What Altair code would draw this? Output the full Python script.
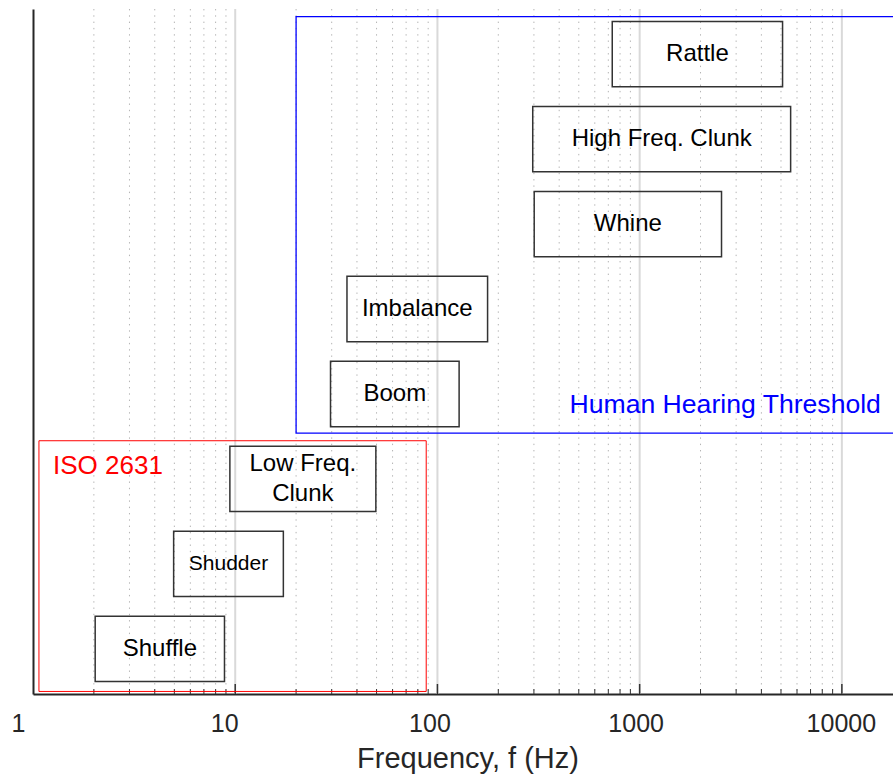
import altair as alt
import pandas as pd

# Driveline noise / vibration phenomena and their frequency ranges (Hz)
phenomena = ["Shuffle", "Shudder", "Low Freq.\nClunk", "Boom", "Imbalance",
             "Whine", "High Freq. Clunk", "Rattle"]
f_low = [2.03, 4.96, 9.41, 29.6, 35.7, 301, 296, 732]
f_high = [8.85, 17.3, 49.6, 128, 177, 2540, 5580, 5090]
row = [1, 2, 3, 4, 5, 6, 7, 8]

# Reference regions
region_names = ["ISO 2631", "Human Hearing Threshold"]
region_f_low = [1.07, 20]
region_f_high = [88, 20000]
region_row_low = [0.5, 3.54]
region_row_high = [3.45, 8.44]
region_label_f = [1.256, 15600]
region_label_row = [3.15, 3.875]

# Axis ticks
axis_labels = [1, 10, 100, 1000, 10000]
major_ticks = [10, 100, 1000, 10000]
minor_ticks = [2, 3, 4, 5, 6, 7, 8, 9,
               20, 30, 40, 50, 60, 70, 80, 90,
               200, 300, 400, 500, 600, 700, 800, 900,
               2000, 3000, 4000, 5000, 6000, 7000, 8000, 9000]

FONT = "Liberation Sans"
W, H = 860, 685
HALF = 0.384  # half box height in row units
LINE_H = 30.7  # line height of two-line labels

xs = alt.Scale(type="log", domain=[1, 17900], nice=False)
ys = alt.Scale(domain=[0.47, 8.53], nice=False, zero=False)

boxes = pd.DataFrame({"label": phenomena, "lo": f_low, "hi": f_high, "row": row})
regions = pd.DataFrame({
    "name": region_names, "lo": region_f_low, "hi": region_f_high,
    "r0": region_row_low, "r1": region_row_high,
    "lf": region_label_f, "lr": region_label_row,
})

label_offset = {
    "condition": [
        {"test": "datum.value == 1", "value": -15},
        {"test": "datum.value == 10", "value": -11},
        {"test": "datum.value == 100", "value": -8},
        {"test": "datum.value == 1000", "value": -4},
    ],
    "value": -1,
}

x_axis = alt.Axis(
    values=axis_labels, format="d", ticks=False, tickSize=0, grid=False,
    labelFont=FONT, labelFontSize=25, labelColor="#262626", labelPadding=17,
    labelOffset=label_offset, labelFlush=False, labelOverlap=False,
    domainColor="#262626", domainWidth=2,
    title="Frequency, f (Hz)", titleFont=FONT, titleFontSize=29,
    titleFontWeight="normal", titleColor="#262626", titlePadding=8,
    titleX=434.5,
)
y_axis = alt.Axis(
    labels=False, ticks=False, grid=False, title=None,
    domainColor="#262626", domainWidth=2, minExtent=0,
)


def fx(field):
    return alt.X(field, scale=xs, axis=x_axis)


def fy(field):
    return alt.Y(field, scale=ys, axis=y_axis)


minor_grid = alt.Chart(pd.DataFrame({"f": minor_ticks})).mark_rule(
    color="#b4b4b4", strokeWidth=1, strokeDash=[1.4, 4.9]
).encode(x=fx("f:Q"), y=alt.value(0), y2=alt.value(H))

major_grid = alt.Chart(pd.DataFrame({"f": major_ticks})).mark_rule(
    color="#d9d9d9", strokeWidth=2
).encode(x=fx("f:Q"), y=alt.value(0), y2=alt.value(H))

minor_tick_marks = alt.Chart(pd.DataFrame({"f": minor_ticks})).mark_rule(
    color="#333333", strokeWidth=1
).encode(x=fx("f:Q"), y=alt.value(H), y2=alt.value(H - 5))

major_tick_marks = alt.Chart(pd.DataFrame({"f": major_ticks})).mark_rule(
    color="#333333", strokeWidth=1.5
).encode(x=fx("f:Q"), y=alt.value(H), y2=alt.value(H - 10))

iso_box = alt.Chart(regions).transform_filter(
    alt.datum.name == "ISO 2631"
).mark_rect(fill="white", fillOpacity=0, stroke="#ff0000", strokeWidth=1, clip=True).encode(
    x=fx("lo:Q"), x2="hi:Q", y=fy("r0:Q"), y2="r1:Q",
)

hearing_box = alt.Chart(regions).transform_filter(
    alt.datum.name == "Human Hearing Threshold"
).mark_rect(fill="white", fillOpacity=0, stroke="#0000ff", strokeWidth=1.3, clip=True).encode(
    x=fx("lo:Q"), x2="hi:Q", y=fy("r0:Q"), y2="r1:Q",
)

iso_text = alt.Chart(regions).transform_filter(
    alt.datum.name == "ISO 2631"
).mark_text(font=FONT, fontSize=26, color="#ff0000", align="left", baseline="middle").encode(
    x=fx("lf:Q"), y=fy("lr:Q"), text="name:N",
)

hearing_text = alt.Chart(regions).transform_filter(
    alt.datum.name == "Human Hearing Threshold"
).mark_text(font=FONT, fontSize=26.6, color="#0000ff", align="right", baseline="middle").encode(
    x=fx("lf:Q"), y=fy("lr:Q"), text="name:N",
)

rects = alt.Chart(boxes).transform_calculate(
    y0=f"datum.row - {HALF}", y1=f"datum.row + {HALF}"
).mark_rect(fill="white", fillOpacity=0, stroke="#333333", strokeWidth=1.5).encode(
    x=fx("lo:Q"), x2="hi:Q", y=fy("y0:Q"), y2="y1:Q",
)

box_text_base = alt.Chart(boxes).transform_calculate(
    fc="sqrt(datum.lo * datum.hi)",
    nlines="length(split(datum.label, '\\n'))",
)

single_line = box_text_base.transform_filter("datum.nlines == 1").mark_text(
    font=FONT, color="black", align="center", baseline="middle",
).encode(
    x=fx("fc:Q"), y=fy("row:Q"), text="label:N",
    size=alt.condition(alt.datum.label == "Shudder", alt.value(21), alt.value(24)),
)

two_line = box_text_base.transform_filter("datum.nlines == 2").mark_text(
    font=FONT, fontSize=24, color="black", align="center", baseline="middle",
    lineBreak="\n", lineHeight=LINE_H, dy=-LINE_H / 2,
).encode(x=fx("fc:Q"), y=fy("row:Q"), text="label:N")

chart = alt.layer(
    minor_grid, major_grid, minor_tick_marks, major_tick_marks,
    iso_box, hearing_box, rects, single_line, two_line, iso_text, hearing_text,
).properties(
    width=W, height=H,
    autosize=alt.AutoSizeParams(type="none"),
    padding={"left": 33, "top": 9, "right": 0, "bottom": 85},
    background="white",
).configure_view(stroke=None)

chart.save("out.html", embed_options={"renderer": "svg", "actions": False})
